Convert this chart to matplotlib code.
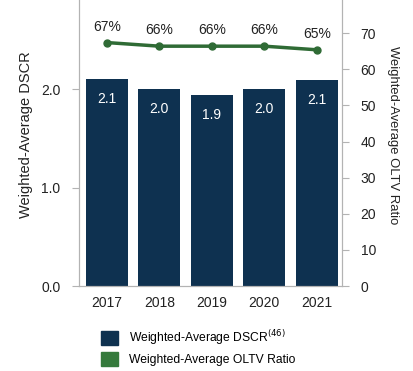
import matplotlib.pyplot as plt
from matplotlib.patches import Patch

years = ["2017", "2018", "2019", "2020", "2021"]
dscr = [2.1, 2.0, 1.94, 2.0, 2.09]
dscr_labels = ["2.1", "2.0", "1.9", "2.0", "2.1"]
oltv = [67.4, 66.4, 66.4, 66.4, 65.4]
oltv_labels = ["67%", "66%", "66%", "66%", "65%"]

navy = "#0e3150"
green = "#2f6b35"
grey = "#b3b3b3"

plt.rcParams["font.family"] = ["Liberation Sans", "DejaVu Sans"]

fig = plt.figure(figsize=(4.14, 3.71), dpi=100)
# the plot area runs a little past the top edge of the picture
ax = fig.add_axes([0.191, 0.229, 0.635, 0.814])
ax2 = ax.twinx()

x = list(range(len(years)))
ax.bar(x, dscr, width=0.8, color=navy, zorder=2)
for xi, v, lab in zip(x, dscr, dscr_labels):
    ax.annotate(lab, (xi, v), xytext=(0, -9), textcoords="offset points",
                ha="center", va="top", color="white", fontsize=10)

ax2.plot(x, oltv, color=green, linewidth=2.5, marker="o", markersize=5)
for xi, v, lab in zip(x, oltv, oltv_labels):
    ax2.annotate(lab, (xi, v), xytext=(0, 6.5), textcoords="offset points",
                 ha="center", va="bottom", color="#222222", fontsize=10)

ax.set_xlim(-0.53, 4.48)
ax.set_ylim(0, 3.07)
ax2.set_ylim(0, 83.6)
ax.set_yticks([0, 1, 2])
ax.set_yticklabels(["0.0", "1.0", "2.0"])
ax2.set_yticks(range(0, 80, 10))
ax.set_xticks(x)
ax.set_xticklabels(years)

for a in (ax, ax2):
    a.spines["top"].set_visible(False)
    for s in ("left", "right", "bottom"):
        a.spines[s].set_color(grey)
    a.tick_params(colors=grey, labelcolor="#222222", labelsize=10, length=5)
ax.tick_params(axis="x", length=0, pad=7)
ax.tick_params(axis="y", pad=8.5)
ax2.tick_params(axis="y", pad=8.5)

ax.set_ylabel("Weighted-Average DSCR", fontsize=10.5, color="#222222", labelpad=6)
ax2.set_ylabel("Weighted-Average OLTV Ratio", fontsize=9.4, color="#222222",
               rotation=270, labelpad=16)

handles = [Patch(color=navy), Patch(color="#357a3c")]
labels = ["Weighted-Average DSCR$^{(46)}$", "Weighted-Average OLTV Ratio"]
fig.legend(handles, labels, loc="upper left", bbox_to_anchor=(0.244, 0.116),
           frameon=False, fontsize=8.7, handlelength=1.4, handleheight=1.4,
           labelspacing=0.4, handletextpad=0.9, borderpad=0, borderaxespad=0)

fig.savefig("out.png", dpi=100)
